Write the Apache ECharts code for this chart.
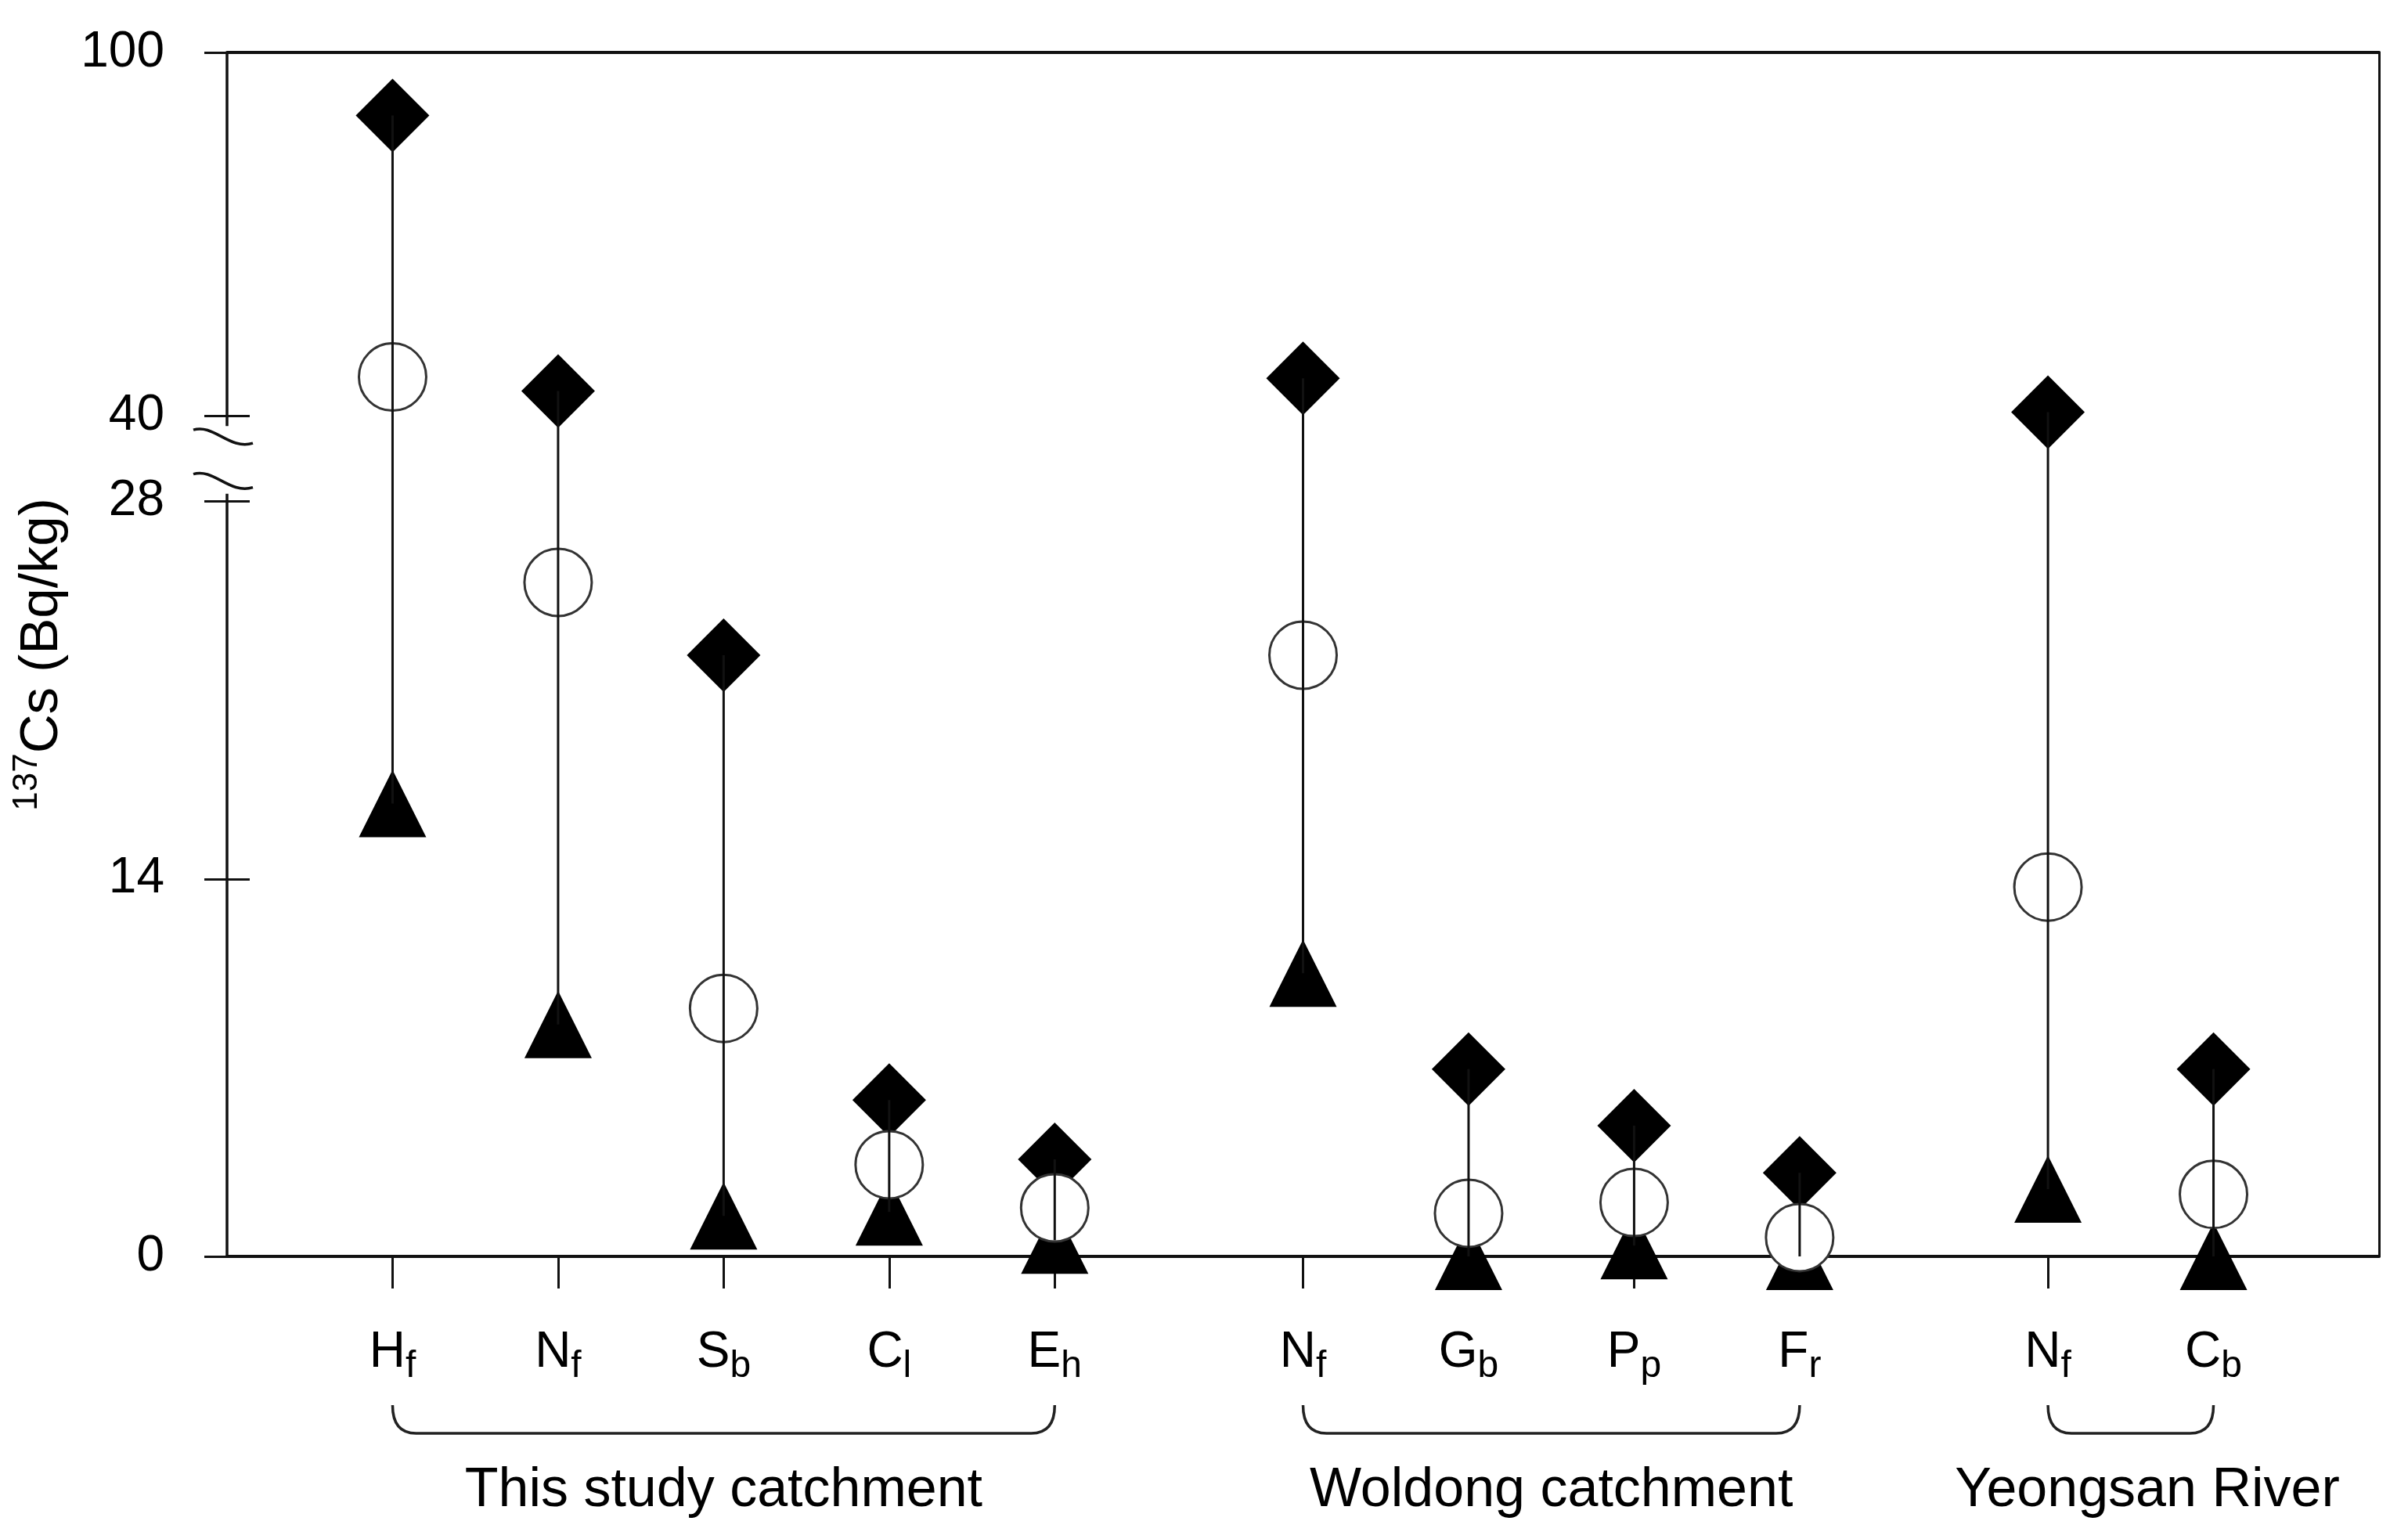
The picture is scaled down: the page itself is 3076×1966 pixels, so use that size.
<!DOCTYPE html>
<html><head><meta charset="utf-8">
<script src="https://cdn.jsdelivr.net/npm/echarts@6/dist/echarts.min.js"></script>
<style>html,body{margin:0;padding:0;background:#fff}#c{width:3076px;height:1966px}</style>
</head><body><div id="c"></div>
<script>
// ---- data ----
const labelMain = ['H','N','S','C','E','N','G','P','F','N','C'];
const labelSub  = ['f','f','b','l','h','f','b','p','r','f','b'];
const xPositions = [1,2,3,4,5,6.5,7.5,8.5,9.5,11,12];
const maxValues  = [89.6,44.1,22.3,5.8,3.6,46.2,6.95,4.85,3.1,40.6,6.95];
const meanValues = [46.4,25.0,9.2,3.4,1.8,22.3,1.6,2.0,0.7,13.7,2.3];
const minValues  = [16.8,8.6,1.5,1.65,0.6,10.5,0,0.4,0,2.5,0];
const yTickValues = [0,14,28,40,100];
const groupNames = ['This study catchment','Woldong catchment','Yeongsan River'];
const groupStart = [1,6.5,11];
const groupEnd   = [5,9.5,12];
const groupLabelAt = [3,8,11.6];

// ---- broken axis transform (0-28 linear, gap, 40-100 compressed) ----
const LOW_MAX = 28, UP_MIN = 40, UP_MAX = 100, GAP = 3.18, K = 0.2246;
function toDisplay(v){
  if (v <= LOW_MAX) return v;
  if (v >= UP_MIN) return LOW_MAX + GAP + (v - UP_MIN) * K;
  return LOW_MAX + (v - LOW_MAX) / (UP_MIN - LOW_MAX) * GAP;
}
const Y_MAX = toDisplay(UP_MAX);
const yTickDisplay = yTickValues.map(toDisplay);

const FONT = '"Liberation Sans", Arial, sans-serif';
const chart = echarts.init(document.getElementById('c'), null, {renderer:'canvas'});

const yTickLabel = function(val){
  const i = yTickDisplay.findIndex(d => Math.abs(d - val) < 1e-6);
  return i >= 0 ? String(yTickValues[i]) : '';
};

const option = {
  backgroundColor: '#fff',
  animation: false,
  grid: {left: 290, right: 37, top: 67, bottom: 361, containLabel: false},
  xAxis: [
    {
      type: 'value', min: 0, max: 13, position: 'bottom',
      axisLine: {show: true, onZero: false, lineStyle: {color: '#111', width: 4}},
      axisTick: {show: true, inside: false, length: 41, customValues: xPositions, lineStyle: {color: '#111', width: 3}},
      axisLabel: {
        show: true, margin: 81, customValues: xPositions,
        formatter: function(val){
          const i = xPositions.findIndex(x => Math.abs(x - val) < 1e-6);
          return i >= 0 ? '{m|' + labelMain[i] + '}{s|' + labelSub[i] + '}' : '';
        },
        rich: {
          m: {fontSize: 64, lineHeight: 84, fontFamily: FONT, color: '#000'},
          s: {fontSize: 48, lineHeight: 48, fontFamily: FONT, color: '#000', verticalAlign: 'bottom'}
        }
      },
      splitLine: {show: false}
    },
    {
      type: 'value', min: 0, max: 13, position: 'top',
      axisLine: {show: true, onZero: false, lineStyle: {color: '#111', width: 4}},
      axisTick: {show: false}, axisLabel: {show: false}, splitLine: {show: false}
    }
  ],
  yAxis: [
    {
      type: 'value', min: 0, max: Y_MAX, position: 'left',
      axisLine: {show: false},
      axisTick: {show: true, inside: false, length: 29, customValues: yTickDisplay, lineStyle: {color: '#111', width: 3}},
      axisLabel: {show: true, margin: 80, customValues: yTickDisplay, formatter: yTickLabel,
        fontSize: 64, fontFamily: FONT, color: '#000'},
      splitLine: {show: false},
      name: '{sup|137}{main|Cs (Bq/kg)}',
      nameLocation: 'middle', nameRotate: 90, nameGap: 195,
      nameTextStyle: {
        rich: {
          sup: {fontSize: 44, lineHeight: 44, fontFamily: FONT, color: '#000', verticalAlign: 'top'},
          main: {fontSize: 69, lineHeight: 82, fontFamily: FONT, color: '#000'}
        }
      }
    },
    {
      type: 'value', min: 0, max: Y_MAX, position: 'left',
      axisLine: {show: false},
      axisTick: {show: true, inside: true, length: 29, customValues: yTickDisplay, lineStyle: {color: '#111', width: 3}},
      axisLabel: {show: false}, splitLine: {show: false}
    },
    {
      type: 'value', min: 0, max: Y_MAX, position: 'right',
      axisLine: {show: true, onZero: false, lineStyle: {color: '#111', width: 3}},
      axisTick: {show: false}, axisLabel: {show: false}, splitLine: {show: false}
    }
  ],
  series: [
    // left axis line with break marks
    {
      type: 'custom', clip: false, z: 2, silent: true,
      data: [[0, 0]],
      renderItem: function(params, api){
        const pTop = api.coord([0, Y_MAX]);
        const p40 = api.coord([0, toDisplay(UP_MIN)]);
        const p28 = api.coord([0, LOW_MAX]);
        const p0 = api.coord([0, 0]);
        const x = pTop[0];
        const wave = function(cy){
          const cx = x - 5;
          return 'M' + (cx-38) + ',' + (cy-9) + ' C' + (cx-12) + ',' + (cy-17) + ' ' + (cx+8) + ',' + (cy+17) + ' ' + (cx+38) + ',' + (cy+8);
        };
        const st = {stroke: '#111', lineWidth: 3.5, fill: null};
        return {type: 'group', children: [
          {type: 'line', shape: {x1: x, y1: pTop[1], x2: x, y2: p40[1] + 13}, style: st},
          {type: 'line', shape: {x1: x, y1: p28[1] - 10, x2: x, y2: p0[1]}, style: st},
          {type: 'path', shape: {pathData: wave(p40[1] + 27)}, style: {stroke: '#111', lineWidth: 3.5, fill: null}},
          {type: 'path', shape: {pathData: wave(p28[1] - 26)}, style: {stroke: '#111', lineWidth: 3.5, fill: null}}
        ]};
      }
    },
    // group brackets and names
    {
      type: 'custom', clip: false, z: 2, silent: true,
      data: groupStart.map((s, i) => [s, groupEnd[i], groupLabelAt[i]]),
      renderItem: function(params, api){
        const a = api.coord([api.value(0), 0]);
        const b = api.coord([api.value(1), 0]);
        const c = api.coord([api.value(2), 0]);
        const y0 = a[1];
        const top = y0 + 190, bot = y0 + 226, r = 30;
        const d = 'M' + a[0] + ',' + top + ' Q' + a[0] + ',' + bot + ' ' + (a[0] + r) + ',' + bot +
                  ' L' + (b[0] - r) + ',' + bot + ' Q' + b[0] + ',' + bot + ' ' + b[0] + ',' + top;
        return {type: 'group', children: [
          {type: 'path', shape: {pathData: d}, style: {stroke: '#222', lineWidth: 3.5, fill: null}},
          {type: 'text', x: c[0], y: y0 + 300, style: {text: groupNames[params.dataIndex], fontSize: 70,
            fontFamily: FONT, fill: '#000', align: 'center', verticalAlign: 'middle'}}
        ]};
      }
    },
    // maximum (diamond)
    {
      type: 'scatter', clip: false, z: 3, silent: true,
      symbol: 'diamond', symbolSize: 94,
      itemStyle: {color: '#000', opacity: 1},
      data: xPositions.map((x, i) => [x, toDisplay(maxValues[i])])
    },
    // minimum (triangle)
    {
      type: 'scatter', clip: false, z: 3, silent: true,
      symbol: 'triangle', symbolSize: [86, 86],
      itemStyle: {color: '#000', opacity: 1},
      data: xPositions.map((x, i) => [x, toDisplay(minValues[i])])
    },
    // mean (open circle)
    {
      type: 'scatter', clip: false, z: 4, silent: true,
      symbol: 'circle', symbolSize: 86,
      itemStyle: {color: '#fff', borderColor: '#333', borderWidth: 3, opacity: 1},
      data: xPositions.map((x, i) => [x, toDisplay(meanValues[i])])
    },
    // range stems
    {
      type: 'custom', clip: false, z: 5, silent: true,
      data: xPositions.map((x, i) => [x, toDisplay(minValues[i]), toDisplay(maxValues[i])]),
      renderItem: function(params, api){
        const p1 = api.coord([api.value(0), api.value(1)]);
        const p2 = api.coord([api.value(0), api.value(2)]);
        return {type: 'line', shape: {x1: p1[0], y1: p1[1], x2: p2[0], y2: p2[1]},
          style: {stroke: '#111', lineWidth: 3}};
      }
    }
  ]
};
chart.setOption(option);
</script>
</body></html>
